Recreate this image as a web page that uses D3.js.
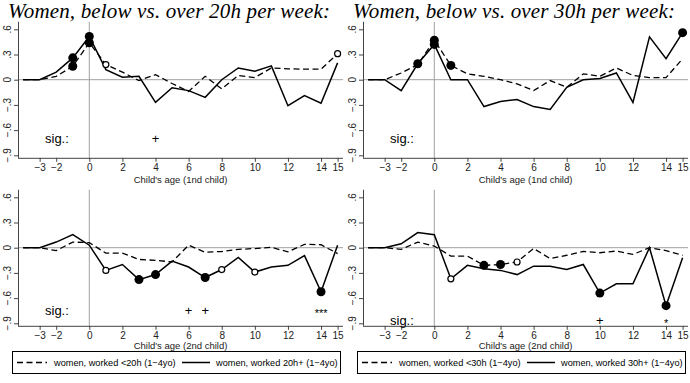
<!DOCTYPE html>
<html><head><meta charset="utf-8">
<script src="https://cdn.jsdelivr.net/npm/d3@7"></script>
<style>body{margin:0;background:#fff}svg{display:block}</style>
</head><body>
<script>
const ages = [-4,-3,-2,-1,0,1,2,3,4,5,6,7,8,9,10,11,12,13,14,15];
const xTicks = [-3,-2,0,2,4,6,8,10,12,14,15];
const yTicks = [0.6,0.3,0,-0.3,-0.6,-0.9];
const yTickLabels = [".6",".3","0","\u2212.3","\u2212.6","\u2212.9"];
const titles = ["Women, below vs. over 20h per week:","Women, below vs. over 30h per week:"];
const xTitles = ["Child's age (1nd child)","Child's age (1nd child)","Child's age (2nd child)","Child's age (2nd child)"];
const legendLabels = [["women, worked <20h (1\u22124yo)","women, worked 20h+ (1\u22124yo)"],["women, worked <30h (1\u22124yo)","women, worked 30h+ (1\u22124yo)"]];

// panel 1: 1st child, 20h
const p1Below = [0,0,0.04,0.16,0.44,0.18,0.09,-0.01,0.06,-0.045,-0.14,0.04,-0.11,0.05,0.025,0.14,0.13,0.125,0.125,0.31];
const p1Over  = [0,0,0.09,0.26,0.515,0.12,0.03,0.04,-0.27,-0.095,-0.13,-0.21,0.0,0.14,0.10,0.165,-0.31,-0.19,-0.28,0.2];
// panel 2: 1st child, 30h
const p2Below = [0,0,0.08,0.18,0.47,0.17,0.07,0.04,0.0,-0.05,-0.13,-0.01,-0.09,0.07,0.04,0.14,0.05,0.025,0.025,0.25];
const p2Over  = [0,0,-0.13,0.19,0.42,0,0,-0.32,-0.26,-0.235,-0.32,-0.355,-0.09,0,0.015,0.08,-0.27,0.51,0.25,0.56];
// panel 3: 2nd child, 20h
const p3Below = [0,0,-0.035,0.067,0.06,-0.065,-0.065,-0.14,-0.15,-0.17,0.03,-0.055,-0.045,-0.02,-0.01,0.005,-0.05,0.04,0.035,-0.07];
const p3Over  = [0,0,0.067,0.155,0.03,-0.27,-0.2,-0.38,-0.32,-0.16,-0.23,-0.355,-0.26,-0.115,-0.29,-0.23,-0.21,-0.095,-0.525,0.03];
// panel 4: 2nd child, 30h
const p4Below = [0,0,-0.02,0.067,0.02,-0.1,-0.1,-0.21,-0.2,-0.17,-0.01,-0.13,-0.09,-0.045,-0.06,-0.04,-0.08,0.0,-0.035,-0.09];
const p4Over  = [0,0,0.047,0.18,0.155,-0.37,-0.21,-0.25,-0.27,-0.32,-0.22,-0.22,-0.26,-0.2,-0.54,-0.43,-0.43,0.0,-0.69,-0.12];

// significance markers (ages): filled = significant, hollow = marginal
const p1BelowFilled = [-1,0], p1BelowHollow = [1,15], p1OverFilled = [-1,0], p1OverHollow = [];
const p2BelowFilled = [0,1], p2BelowHollow = [], p2OverFilled = [-1,0,15], p2OverHollow = [];
const p3BelowFilled = [], p3BelowHollow = [], p3OverFilled = [3,4,7,14], p3OverHollow = [1,8,10];
const p4BelowFilled = [3,4], p4BelowHollow = [5], p4OverFilled = [10,14], p4OverHollow = [1];

const p1SigAges = [4], p1SigText = ["+"];
const p2SigAges = [], p2SigText = [];
const p3SigAges = [6,7,14], p3SigText = ["+","+","***"];
const p4SigAges = [10,14], p4SigText = ["+","*"];

const panels = [
  {ox:0, oy:0, below:p1Below, over:p1Over, bf:p1BelowFilled, bh:p1BelowHollow, of:p1OverFilled, oh:p1OverHollow, sa:p1SigAges, st:p1SigText, sigY:-0.69, xt:xTitles[0], tOff:25},
  {ox:345, oy:0, below:p2Below, over:p2Over, bf:p2BelowFilled, bh:p2BelowHollow, of:p2OverFilled, oh:p2OverHollow, sa:p2SigAges, st:p2SigText, sigY:-0.69, xt:xTitles[1], tOff:25},
  {ox:0, oy:168, below:p3Below, over:p3Over, bf:p3BelowFilled, bh:p3BelowHollow, of:p3OverFilled, oh:p3OverHollow, sa:p3SigAges, st:p3SigText, sigY:-0.74, xt:xTitles[2], tOff:23},
  {ox:345, oy:168, below:p4Below, over:p4Over, bf:p4BelowFilled, bh:p4BelowHollow, of:p4OverFilled, oh:p4OverHollow, sa:p4SigAges, st:p4SigText, sigY:-0.86, xt:xTitles[3], tOff:23}
];

const W = 690, H = 383;
const svg = d3.select("body").append("svg").attr("width", W).attr("height", H);
svg.append("rect").attr("width", W).attr("height", H).attr("fill", "#fff");
const sans = "'Liberation Sans', Arial, sans-serif";

titles.forEach((t, i) => {
  svg.append("text").attr("x", 169 + i*345).attr("y", 18)
    .attr("text-anchor", "middle").attr("font-family", "'Liberation Serif', serif")
    .attr("font-style", "italic").attr("font-weight", "normal").attr("font-size", 21)
    .attr("textLength", 322).attr("lengthAdjust", "spacing")
    .attr("fill", "#000").text(t);
});

panels.forEach(p => {
  const g = svg.append("g");
  const x = d3.scaleLinear().domain([-4, 15]).range([p.ox + 23.1, p.ox + 337.6]);
  const y = d3.scaleLinear().domain([0.6, -0.9]).range([p.oy + 29.3, p.oy + 155.3]);
  const axY = y(-0.93), topY = y(0.69), leftX = p.ox + 18, rightX = p.ox + 343;

  // reference lines
  g.append("line").attr("x1", leftX).attr("x2", rightX).attr("y1", y(0)).attr("y2", y(0))
    .attr("stroke", "#a0a0a0").attr("stroke-width", 1);
  g.append("line").attr("x1", x(0)).attr("x2", x(0)).attr("y1", topY).attr("y2", axY)
    .attr("stroke", "#a0a0a0").attr("stroke-width", 1);

  // x axis
  const xa = g.append("g").attr("transform", `translate(0,${axY})`)
    .call(d3.axisBottom(x).tickValues(xTicks).tickSize(4).tickPadding(2)
      .tickFormat(d => d < 0 ? "\u2212" + Math.abs(d) : d));
  xa.select(".domain").attr("d", `M${leftX},0.5H${rightX}`).attr("stroke", "#444");
  xa.selectAll(".tick line").attr("stroke", "#444");
  xa.selectAll("text").attr("font-family", sans).attr("font-size", 10).attr("fill", "#222");
  g.append("text").attr("x", (leftX + rightX) / 2).attr("y", axY + p.tOff)
    .attr("text-anchor", "middle").attr("font-family", sans).attr("font-size", 9.5).attr("fill", "#222").text(p.xt);

  // y axis
  const ya = g.append("g").attr("transform", `translate(${leftX},0)`)
    .call(d3.axisLeft(y).tickValues(yTicks).tickSize(4).tickFormat(""));
  ya.select(".domain").attr("d", `M0.5,${topY}V${axY}`).attr("stroke", "#444");
  ya.selectAll(".tick line").attr("stroke", "#444");
  yTicks.forEach((v, i) => {
    g.append("text").attr("transform", `translate(${p.ox + 11},${y(v)}) rotate(-90)`)
      .attr("text-anchor", "middle").attr("font-family", sans).attr("font-size", 10)
      .attr("fill", "#222").text(yTickLabels[i]);
  });

  // lines
  const line = d3.line().x((d, i) => x(ages[i])).y(d => y(d));
  g.append("path").datum(p.below).attr("d", line).attr("fill", "none")
    .attr("stroke", "#000").attr("stroke-width", 1.3).attr("stroke-dasharray", "6,3.5");
  g.append("path").datum(p.over).attr("d", line).attr("fill", "none")
    .attr("stroke", "#000").attr("stroke-width", 1.5);

  const val = (arr, a) => arr[ages.indexOf(a)];
  const filled = [...p.bf.map(a => [a, val(p.below, a)]), ...p.of.map(a => [a, val(p.over, a)])];
  const hollow = [...p.bh.map(a => [a, val(p.below, a)]), ...p.oh.map(a => [a, val(p.over, a)])];
  g.selectAll(".hc").data(hollow).enter().append("circle")
    .attr("cx", d => x(d[0])).attr("cy", d => y(d[1])).attr("r", 3)
    .attr("fill", "#fff").attr("stroke", "#000").attr("stroke-width", 1.2);
  g.selectAll(".fc").data(filled).enter().append("circle")
    .attr("cx", d => x(d[0])).attr("cy", d => y(d[1])).attr("r", 4.5).attr("fill", "#000");

  // significance row
  g.append("text").attr("x", p.ox + 45).attr("y", y(p.sigY) + 5)
    .attr("font-family", sans).attr("font-size", 13).attr("fill", "#000").text("sig.:");
  p.sa.forEach((a, i) => {
    g.append("text").attr("x", x(a)).attr("y", y(p.sigY) + (p.st[i] === "+" ? 5 : 7))
      .attr("text-anchor", "middle").attr("font-family", sans)
      .attr("font-size", p.st[i] === "+" ? 13 : 11).attr("fill", "#000").text(p.st[i]);
  });
});

// legends
[0, 1].forEach(i => {
  const lx = i === 0 ? 12 : 357, lw = 328, ly = 351, lh = 22;
  const lg = svg.append("g");
  lg.append("rect").attr("x", lx + 0.5).attr("y", ly + 0.5).attr("width", lw).attr("height", lh)
    .attr("fill", "#fff").attr("stroke", "#000").attr("stroke-width", 1);
  const cy = ly + lh / 2 + 0.5;
  lg.append("line").attr("x1", lx + 5).attr("x2", lx + 35).attr("y1", cy).attr("y2", cy)
    .attr("stroke", "#000").attr("stroke-width", 1.3).attr("stroke-dasharray", "6,3.5");
  lg.append("text").attr("x", lx + 42).attr("y", cy + 3.3).attr("font-family", sans)
    .attr("font-size", 9.2).attr("fill", "#000").text(legendLabels[i][0]);
  lg.append("line").attr("x1", lx + 170).attr("x2", lx + 198).attr("y1", cy).attr("y2", cy)
    .attr("stroke", "#000").attr("stroke-width", 1.5);
  lg.append("text").attr("x", lx + 204).attr("y", cy + 3.3).attr("font-family", sans)
    .attr("font-size", 9.2).attr("fill", "#000").text(legendLabels[i][1]);
});
</script>
</body></html>
